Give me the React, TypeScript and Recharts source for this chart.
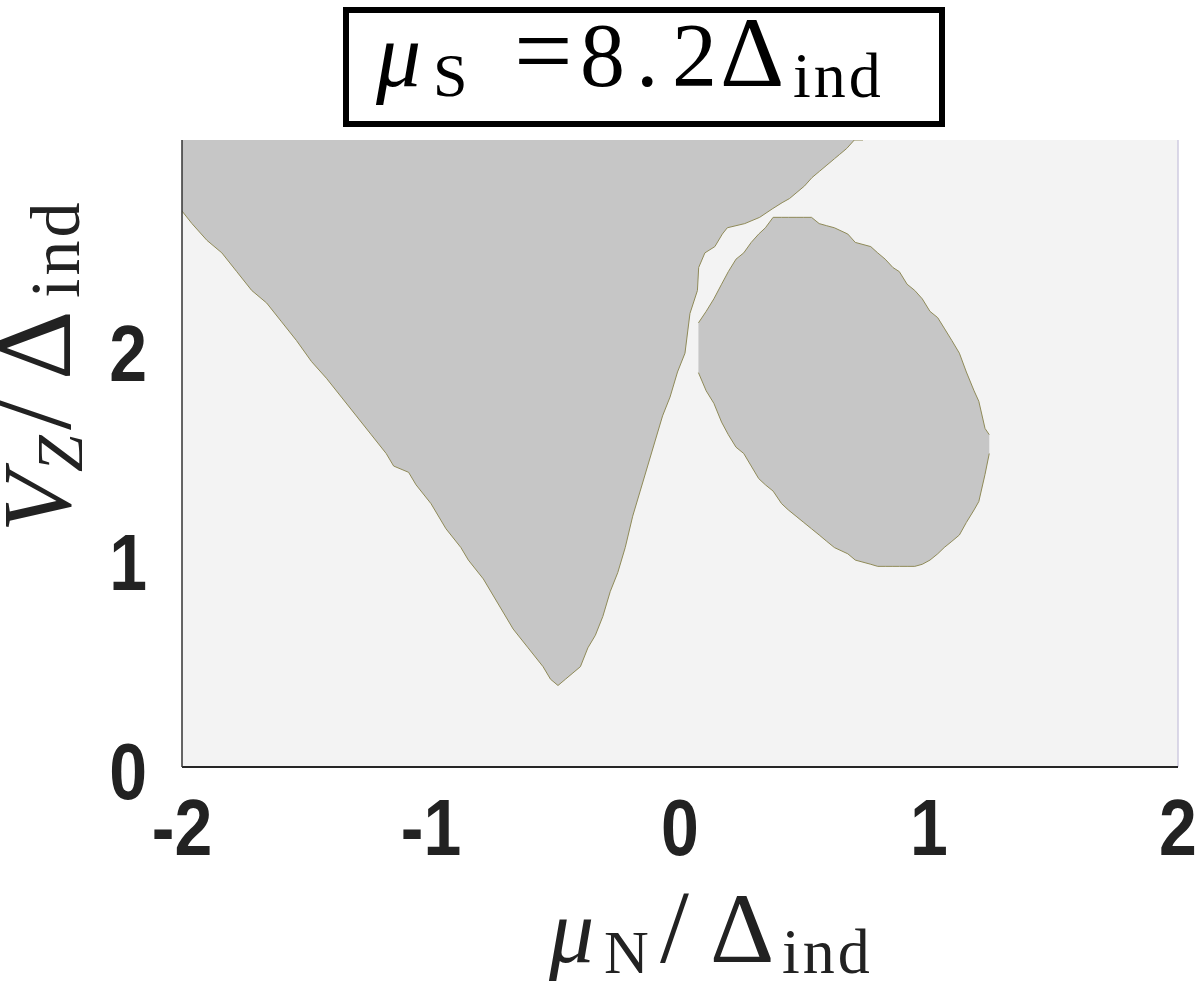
import React from "react";
import { ComposedChart, Area, Line, XAxis, YAxis, CartesianGrid, ReferenceLine } from "recharts";

// axis ticks
const xTicks = [-2, -1, 0, 1, 2];
const yTicks = [0, 1, 2];
const vzTop = 3;

// left (big) gray region: lower edge, it runs up to the top of the frame
const leftMu = [
  -2.0, -1.96, -1.9, -1.84, -1.78, -1.72, -1.66, -1.6, -1.54, -1.48, -1.42, -1.36, -1.3, -1.24, -1.18, -1.15,
  -1.09, -1.06, -1.0, -0.94, -0.88, -0.85, -0.79, -0.73, -0.67, -0.61, -0.55, -0.52, -0.49, -0.46, -0.43, -0.4,
  -0.37, -0.34, -0.31, -0.28, -0.25, -0.22, -0.19, -0.16, -0.13, -0.1, -0.07, -0.04, -0.01, 0.02, 0.04, 0.07,
  0.075, 0.1, 0.14, 0.17, 0.19, 0.26, 0.32, 0.37, 0.41, 0.44, 0.47, 0.5, 0.53, 0.56, 0.59, 0.62, 0.64, 0.67,
  0.7, 0.735,
];
const leftLow = [
  2.66, 2.6, 2.52, 2.46, 2.37, 2.28, 2.22, 2.13, 2.04, 1.94, 1.86, 1.77, 1.68, 1.59, 1.5, 1.44,
  1.41, 1.35, 1.26, 1.14, 1.05, 0.99, 0.9, 0.78, 0.66, 0.57, 0.48, 0.42, 0.39, 0.42, 0.45, 0.48,
  0.57, 0.63, 0.72, 0.84, 0.93, 1.05, 1.2, 1.32, 1.44, 1.56, 1.68, 1.77, 1.89, 1.98, 2.17, 2.28,
  2.39, 2.46, 2.49, 2.55, 2.58, 2.6, 2.63, 2.67, 2.7, 2.72, 2.75, 2.78, 2.82, 2.85, 2.88, 2.91, 2.93, 2.96,
  3.0, 3.0,
];

// the island on the right: lower and upper edges
const islandMu = [
  0.074, 0.105, 0.136, 0.167, 0.194, 0.225, 0.256, 0.286, 0.316, 0.343, 0.374, 0.408, 0.435, 0.466, 0.497,
  0.528, 0.559, 0.589, 0.62, 0.674, 0.704, 0.766, 0.794, 0.824, 0.855, 0.881, 0.912, 0.943, 0.973, 1.004,
  1.035, 1.061, 1.092, 1.122, 1.15, 1.181, 1.2, 1.225, 1.242,
];
const islandLow = [
  1.887, 1.8, 1.74, 1.65, 1.59, 1.53, 1.5, 1.44, 1.38, 1.35, 1.32, 1.26, 1.23, 1.2, 1.17,
  1.14, 1.11, 1.08, 1.05, 1.02, 0.99, 0.97, 0.96, 0.96, 0.96, 0.96, 0.96, 0.96, 0.97, 0.99,
  1.02, 1.05, 1.08, 1.11, 1.17, 1.23, 1.27, 1.4, 1.5,
];
const islandHigh = [
  2.125, 2.18, 2.24, 2.31, 2.37, 2.43, 2.46, 2.51, 2.55, 2.58, 2.63, 2.63, 2.63, 2.63, 2.63,
  2.63, 2.6, 2.59, 2.58, 2.55, 2.51, 2.49, 2.46, 2.43, 2.39, 2.37, 2.31, 2.28, 2.24, 2.18,
  2.15, 2.1, 2.04, 1.98, 1.89, 1.8, 1.75, 1.62, 1.59,
];

const leftData = leftMu.map((x, i) => ({ x, low: leftLow[i], band: [leftLow[i], vzTop] }));
const islandData = islandMu.map((x, i) => ({
  x,
  low: islandLow[i],
  high: islandHigh[i],
  band: [islandLow[i], islandHigh[i]],
}));

const regionFill = "#c6c6c6";
const edgeColor = "#8f8a58";
const tickFont = "'Liberation Sans', Arial, sans-serif";
const mathFont = "'Liberation Serif', 'Times New Roman', serif";

// tick digits are a narrow bold face, so squeeze a bold sans
const XTick = (props: any) => {
  const { x, y, payload } = props;
  return (
    <g transform={`translate(${x},${y + 80})`}>
      <text transform="scale(0.85,1)" textAnchor="middle" fontFamily={tickFont} fontWeight="bold" fontSize={80} fill="#222">
        {payload.value}
      </text>
    </g>
  );
};

const YTick = (props: any) => {
  const { x, y, payload } = props;
  return (
    <g transform={`translate(${x - 27},${y + 32})`}>
      <text transform="scale(0.85,1)" textAnchor="end" fontFamily={tickFont} fontWeight="bold" fontSize={80} fill="#222">
        {payload.value}
      </text>
    </g>
  );
};

export default function App() {
  return (
    <div style={{ position: "absolute", left: 0, top: 0, width: 1200, height: 1006, background: "#fff" }}>
      <ComposedChart width={1200} height={1006} margin={{ top: 140, right: 22, left: 122, bottom: 179 }}>
        <CartesianGrid horizontal={false} vertical={false} fill="#f3f3f3" />
        <XAxis
          type="number"
          dataKey="x"
          domain={[-2, 2]}
          ticks={xTicks}
          allowDataOverflow
          height={60}
          tickLine={false}
          axisLine={{ stroke: "#262626", strokeWidth: 2 }}
          tick={<XTick />}
        />
        <YAxis
          type="number"
          domain={[0, vzTop]}
          ticks={yTicks}
          allowDataOverflow
          width={60}
          tickLine={false}
          axisLine={{ stroke: "#333", strokeWidth: 1.5 }}
          tick={<YTick />}
        />
        <ReferenceLine x={2} stroke="#cfcbe0" strokeWidth={1.5} />
        <Area
          data={leftData}
          dataKey="band"
          type="linear"
          fill={regionFill}
          fillOpacity={1}
          stroke="none"
          isAnimationActive={false}
        />
        <Area
          data={islandData}
          dataKey="band"
          type="linear"
          fill={regionFill}
          fillOpacity={1}
          stroke="none"
          isAnimationActive={false}
        />
        <Line data={leftData} dataKey="low" type="linear" stroke={edgeColor} strokeWidth={1} dot={false} isAnimationActive={false} />
        <Line data={islandData} dataKey="low" type="linear" stroke={edgeColor} strokeWidth={1} dot={false} isAnimationActive={false} />
        <Line data={islandData} dataKey="high" type="linear" stroke={edgeColor} strokeWidth={1} dot={false} isAnimationActive={false} />
      </ComposedChart>

      <svg width={1200} height={1006} style={{ position: "absolute", left: 0, top: 0, pointerEvents: "none" }}>
        {/* title box */}
        <rect x={346} y={10} width={596} height={114} fill="none" stroke="#000" strokeWidth={6} />
        <text y={86} fontFamily={mathFont} fontSize={90} fill="#000">
          <tspan x={376} fontStyle="italic">μ</tspan>
          <tspan x={433} y={96} fontSize={62}>S</tspan>
          <tspan x={514} y={86} fontSize={104}>=</tspan>
          <tspan x={580}>8</tspan>
          <tspan x={636}>.</tspan>
          <tspan x={672}>2</tspan>
          <tspan x={720} fontSize={100}>Δ</tspan>
          <tspan x={793} y={97} fontSize={64} letterSpacing={3}>ind</tspan>
        </text>

        {/* x label */}
        <text y={962} fontFamily={mathFont} fontSize={90} fill="#222">
          <tspan x={549} fontStyle="italic">μ</tspan>
          <tspan x={604} y={973} fontSize={62}>N</tspan>
          <tspan x={660} y={962} fontSize={104}>/</tspan>
          <tspan x={710} fontSize={100}>Δ</tspan>
          <tspan x={782} y={973} fontSize={64} letterSpacing={3}>ind</tspan>
        </text>

        {/* y label, rotated */}
        <g transform="translate(70,0) rotate(-90)">
          <text y={0} fontFamily={mathFont} fontSize={98} fill="#222">
            <tspan x={-532} fontStyle="italic">V</tspan>
            <tspan x={-472} y={12} fontSize={66} fontStyle="italic">Z</tspan>
            <tspan x={-430} y={0} fontSize={112}>/</tspan>
            <tspan x={-380} fontSize={108}>Δ</tspan>
            <tspan x={-298} y={9} fontSize={70} letterSpacing={3}>ind</tspan>
          </text>
        </g>
      </svg>
    </div>
  );
}
